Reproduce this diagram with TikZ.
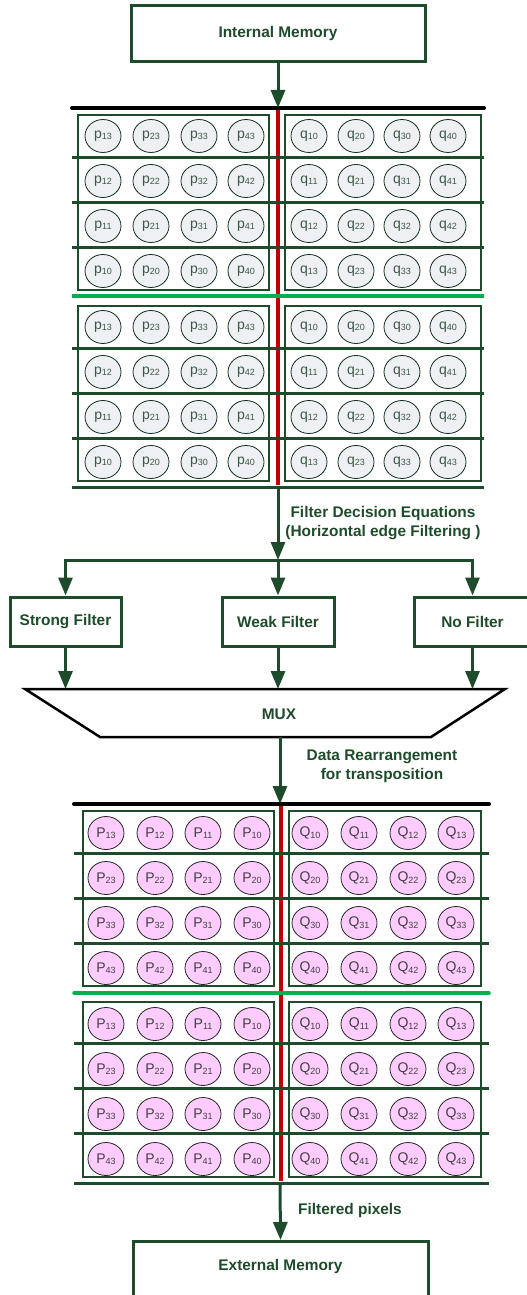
\documentclass[tikz,border=0pt]{standalone}
\usepackage{fontspec}
\setmainfont{Liberation Sans}
\usepackage{tikz}
\usetikzlibrary{arrows.meta, shapes.geometric}

\definecolor{darkgreen}{RGB}{30,75,43}
\definecolor{lightgreen}{RGB}{0,176,80}
\definecolor{darkred}{RGB}{192,0,0}
\definecolor{cellgray}{RGB}{238,240,244}
\definecolor{cellpink}{RGB}{255,204,255}
\definecolor{labelgreen}{RGB}{60,88,70}
\definecolor{labelgray}{RGB}{64,64,64}

\newcommand{\cellname}[2]{#1\raisebox{-1.5pt}{\fontsize{9}{9}\selectfont #2}}

\begin{document}
\begin{tikzpicture}[x=1pt, y=-1pt,
   bigbox/.style={draw=darkgreen, line width=3pt, fill=white, inner sep=0},
   boldtext/.style={text=darkgreen, font=\fontsize{15.4}{19}\selectfont\bfseries},
   flow/.style={draw=darkgreen, line width=3pt, -{Triangle[width=14pt,length=18pt]}},
   rowline/.style={draw=darkgreen, line width=3pt},
   halfbox/.style={draw=darkgreen, line width=2pt},
   pcell/.style={ellipse, draw=darkgreen!60!black, line width=0.8pt, fill=cellgray,
      minimum width=36pt, minimum height=33pt, inner sep=0, text=labelgreen,
      font=\fontsize{14}{14}\selectfont},
   Pcell/.style={pcell, draw=black!85, fill=cellpink, text=labelgray}]
   \useasboundingbox (0,0) rectangle (527,1295);

   \node[bigbox, boldtext, minimum width=294pt, minimum height=56pt] (intmem) at (278,34) {Internal Memory};

   % upper block of p / q pixels
   \coordinate (uptop) at (278,108);
   \coordinate (upbot) at (278,487);
   \foreach \b in {0,1} {
      \draw[halfbox] (78,115+191*\b) rectangle (269,290+191*\b);
      \draw[halfbox] (285,115+191*\b) rectangle (481,290+191*\b);
   }
   \draw[line width=4.5pt, darkred] (uptop) -- (278,485);
   \foreach \y in {157,202,247,348,393,438,487}
      \draw[rowline] (72,\y) -- (484,\y);
   \draw[line width=3.5pt, lightgreen] (72,296) -- (484,296);
   \draw[line width=4pt, black, line cap=round] (72,108) -- (484,108);
   \foreach \b in {0,1}
      \foreach \r in {1,...,4}
         \foreach \c/\xl/\xr in {1/103/309, 2/151/356, 3/199/402, 4/246/448} {
            \pgfmathtruncatemacro\k{4-\r}
            \pgfmathtruncatemacro\m{\r-1}
            \node[pcell] (p-\b-\r-\c) at (\xl,91+191*\b+45*\r) {\cellname{p}{\c\k}};
            \node[pcell] (q-\b-\r-\c) at (\xr,91+191*\b+45*\r) {\cellname{q}{\c\m}};
         }
   \draw[flow] (intmem) -- (uptop);

   % filter decision
   \coordinate (split) at (278,560);
   \draw[flow] (upbot) -- (split);
   \node[boldtext, align=center] (decision) at (383,523)
      {Filter Decision Equations\\(Horizontal edge Filtering )};

   \node[bigbox, boldtext, minimum width=111pt, minimum height=49pt] (strong) at (65.5,621.5) {Strong Filter};
   \node[bigbox, boldtext, minimum width=112pt, minimum height=49pt] (weak) at (278,621.5) {Weak Filter};
   \node[bigbox, boldtext, minimum width=117pt, minimum height=49pt] (nofilt) at (472.5,621.5) {No Filter};
   \draw[flow] (split) -| (strong.north);
   \draw[flow] (split) -- (weak.north);
   \draw[flow] (split) -| (nofilt.north);

   % multiplexer
   \coordinate (muxtl) at (25,689);
   \coordinate (muxtr) at (505,689);
   \coordinate (muxbr) at (431,737);
   \coordinate (muxbl) at (100,737);
   \draw[line width=2.5pt, black, fill=white] (muxtl) -- (muxtr) -- (muxbr) -- (muxbl) -- cycle;
   \node[boldtext] (mux) at (279,714) {MUX};
   \draw[flow] (strong.south) -- (strong.south |- muxtl);
   \draw[flow] (weak.south) -- (weak.south |- muxtl);
   \draw[flow] (nofilt.south) -- (nofilt.south |- muxtl);

   \coordinate (muxout) at (280,737);
   \coordinate (lowtop) at (280,804);
   \coordinate (lowbot) at (280,1183);
   \draw[flow] (muxout) -- (lowtop);
   \node[boldtext, align=center] (rearrange) at (382,766) {Data Rearrangement\\for transposition};

   % lower block of P / Q pixels
   \foreach \b in {0,1} {
      \draw[halfbox] (83,811+191*\b) rectangle (274,986+191*\b);
      \draw[halfbox] (289,811+191*\b) rectangle (481,986+191*\b);
   }
   \draw[line width=4.5pt, darkred] (281,804) -- (281,1181);
   \foreach \y in {853,898,943,1043,1088,1133,1183}
      \draw[rowline] (74,\y) -- (489,\y);
   \draw[line width=3.5pt, lightgreen, line cap=round] (74,993) -- (489,993);
   \draw[line width=4pt, black, line cap=round] (74,804) -- (489,804);
   \foreach \b in {0,1}
      \foreach \r in {1,...,4}
         \foreach \c/\xl/\xr in {1/106/310, 2/155/359, 3/203/408, 4/252/456} {
            \pgfmathtruncatemacro\k{4-\c}
            \pgfmathtruncatemacro\m{\c-1}
            \node[Pcell] (P-\b-\r-\c) at (\xl,788+191*\b+45*\r) {\cellname{P}{\r\k}};
            \node[Pcell] (Q-\b-\r-\c) at (\xr,788+191*\b+45*\r) {\cellname{Q}{\r\m}};
         }

   \node[bigbox, minimum width=295pt, minimum height=62pt, anchor=north] (extmem) at (280.5,1240) {};
   \node[boldtext] (extlabel) at (280.5,1267) {External Memory};
   \draw[flow] (lowbot) -- (extmem.north);
   \node[boldtext] (filtered) at (350,1211) {Filtered pixels};
\end{tikzpicture}
\end{document}
